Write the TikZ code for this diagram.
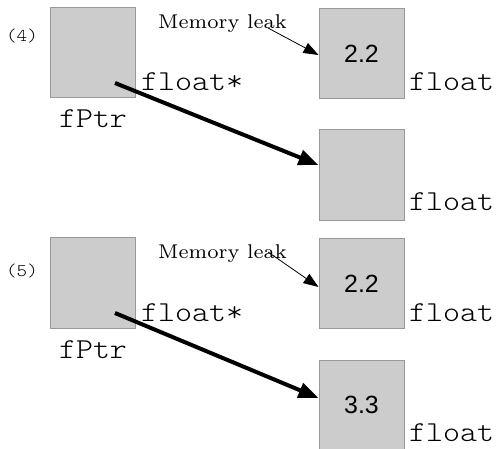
\documentclass[tikz,border=0pt]{standalone}
\usepackage{fontspec}
\usetikzlibrary{arrows.meta}
\newfontfamily\valfont{Liberation Sans}
\definecolor{cellfill}{HTML}{CCCCCC}
\definecolor{celledge}{HTML}{999999}
% light typewriter text, widened to Courier-like advance widths
\newcommand{\codetext}[1]{\scalebox{1.12}[1]{\ttfamily\fontseries{l}\fontsize{29}{29}\selectfont #1}}
\newcommand{\steptext}[1]{\scalebox{1.12}[1]{\ttfamily\fontseries{l}\fontsize{18}{18}\selectfont #1}}
\newcommand{\notetext}[1]{\scalebox{2.85}{\fontsize{7}{8}\selectfont #1}}

\begin{document}
\begin{tikzpicture}[x=1bp,y=-1bp,
  cell/.style={draw=celledge, fill=cellfill, line width=1bp,
    minimum width=85bp, minimum height=90bp, inner sep=0pt,
    font=\valfont\fontsize{25}{25}\selectfont},
  code/.style={inner sep=0pt},
  steplabel/.style={inner sep=0pt, anchor=base west},
  leaktext/.style={inner sep=0pt, anchor=base west},
  ptr/.style={line width=4bp, -{Triangle[length=20bp,width=15bp]}},
  leak/.style={line width=0.8bp, -{Triangle[length=15bp,width=11bp]}}]
\useasboundingbox (0,0) rectangle (498,449);

% ---- step (4): pointer re-targeted to a fresh, empty float ----
\node[steplabel] (s4) at (6,42) {\steptext{(4)}};
\node[cell] (p4) at (93,53) {};
\node[code, anchor=base west] (p4type) at (141,91) {\codetext{float*}};
\node[code, anchor=base] (p4name) at (93,128) {\codetext{fPtr}};
\node[cell] (a4) at (361.5,53.5) {2.2};
\node[code, anchor=base west] (a4type) at (409,91) {\codetext{float}};
\node[cell] (b4) at (361.5,175) {};
\node[code, anchor=base west] (b4type) at (409,211) {\codetext{float}};
\node[leaktext] (l4) at (158,29) {\notetext{Memory leak}};
\coordinate (l4src) at (268,28);
\coordinate (p4src) at (115,83);
\draw[leak] (l4src) -- ([yshift=-1.5bp]a4.west);
\draw[ptr] (p4src) -- ([yshift=10bp]b4.west);

% ---- step (5): the new float receives 3.3 ----
\node[steplabel] (s5) at (6,276) {\steptext{(5)}};
\node[cell] (p5) at (93,283) {};
\node[code, anchor=base west] (p5type) at (141,321) {\codetext{float*}};
\node[code, anchor=base] (p5name) at (93,358) {\codetext{fPtr}};
\node[cell] (a5) at (361.5,283.5) {2.2};
\node[code, anchor=base west] (a5type) at (409,321) {\codetext{float}};
\node[cell] (b5) at (361.5,405) {3.3};
\node[code, anchor=base west] (b5type) at (409,441) {\codetext{float}};
\node[leaktext] (l5) at (158,258) {\notetext{Memory leak}};
\coordinate (l5src) at (268,252);
\coordinate (p5src) at (115,313);
\draw[leak] (l5src) -- ([yshift=-3.5bp]a5.west);
\draw[ptr] (p5src) -- ([yshift=7bp]b5.west);
\end{tikzpicture}
\end{document}
